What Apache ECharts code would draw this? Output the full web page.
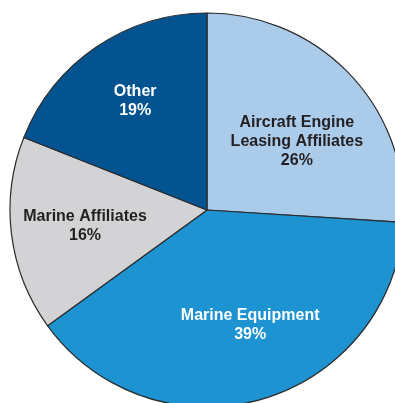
<!DOCTYPE html>
<html lang="en">
<head>
	<meta charset="UTF-8">
	<title>pie</title>
	<style>
		html, body { margin: 0; padding: 0; background: #fff; }
		#main { width: 395px; height: 403px; }
	</style>
	<script src="https://cdn.jsdelivr.net/npm/echarts@6/dist/echarts.min.js"></script>
</head>
<body>
	<div id="main"></div>
	<script>
		// data
		var names = ['Aircraft Engine\nLeasing Affiliates', 'Marine Equipment', 'Marine Affiliates', 'Other'];
		var values = [26, 39, 16, 19];

		var colors = ['#abcbea', '#1d93d2', '#d3d3d5', '#02538f'];
		var textColors = ['#231f20', '#ffffff', '#231f20', '#ffffff'];
		var offsets = [[-2, 18], [8, -6], [3, 0], [-1, -5]];

		var myChart = echarts.init(document.getElementById('main'));

		// slices
		var sliceData = names.map(function (n, i) {
			return { name: n, value: values[i], itemStyle: { color: colors[i] } };
		});
		// labels only (transparent ring, so the labels sit further out)
		var labelData = names.map(function (n, i) {
			return {
				name: n, value: values[i],
				label: { color: textColors[i], offset: offsets[i] }
			};
		});

		var option = {
			animation: false,
			series: [{
				type: 'pie',
				center: [207, 210],
				radius: 197,
				startAngle: 90,
				clockwise: true,
				silent: true,
				label: { show: false },
				labelLine: { show: false },
				itemStyle: { borderColor: '#2b2b2b', borderWidth: 1.2 },
				data: sliceData
			}, {
				type: 'pie',
				center: [207, 210],
				radius: 246,
				startAngle: 90,
				clockwise: true,
				silent: true,
				itemStyle: { color: 'rgba(0,0,0,0)' },
				labelLine: { show: false },
				label: {
					show: true,
					position: 'inside',
					formatter: '{b}\n{c}%',
					fontFamily: 'Liberation Sans, Arial, sans-serif',
					fontWeight: 'bold',
					fontSize: 16,
					lineHeight: 19,
					align: 'center'
				},
				data: labelData
			}]
		};

		myChart.setOption(option);
	</script>
</body>
</html>
